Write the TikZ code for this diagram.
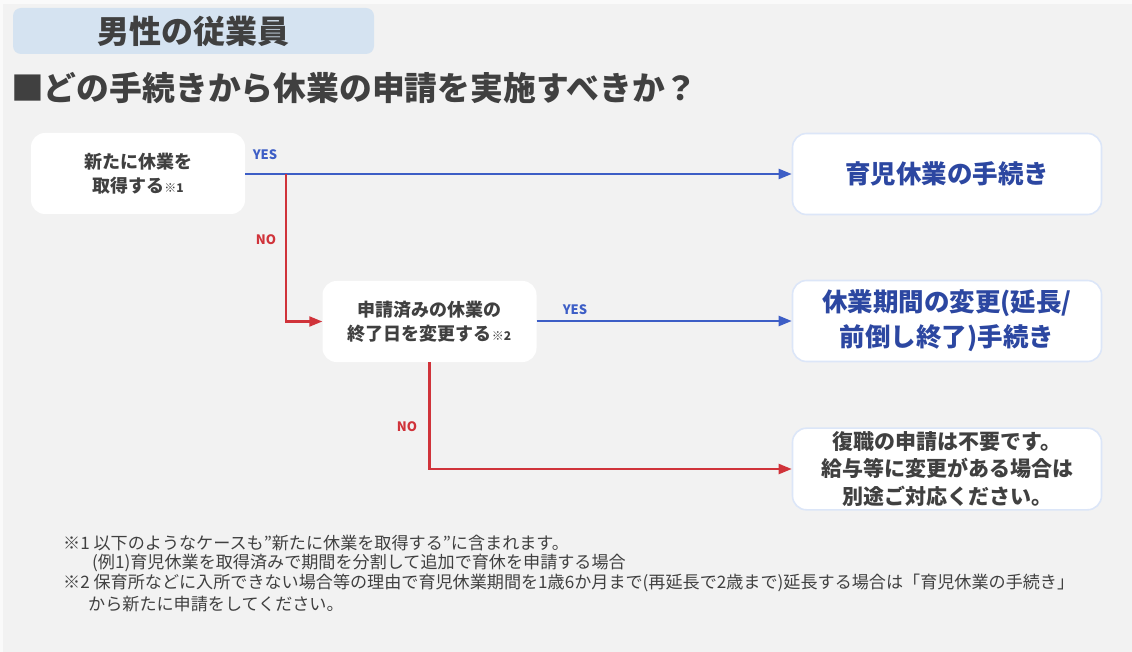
\documentclass[tikz,border=0pt]{standalone}
\usepackage{fontspec}
\setmainfont{Noto Sans CJK JP}
\usetikzlibrary{positioning,arrows.meta}
\definecolor{txtgray}{HTML}{404040}
\definecolor{bggray}{HTML}{F2F2F2}
\definecolor{hdrblue}{HTML}{D5E3F1}
\definecolor{yesblue}{HTML}{3D5EC6}
\definecolor{nored}{HTML}{D0333A}
\definecolor{resblue}{HTML}{2C47A1}
\definecolor{resedge}{HTML}{DCE6F8}

\begin{document}
\begin{tikzpicture}[x=1pt,y=-1pt,
  qbox/.style={fill=white,rounded corners=14pt,minimum width=214pt,minimum height=81pt,align=center,text=txtgray,font=\fontsize{18}{24}\selectfont\bfseries},
  resbox/.style={draw=resedge,line width=1.6pt,fill=white,rounded corners=14pt,minimum width=309pt,minimum height=81pt,align=center},
  yesline/.style={draw=yesblue,line width=2.2pt,-{Triangle[length=13pt,width=10pt]}},
  noline/.style={draw=nored,line width=2.2pt,-{Triangle[length=13pt,width=10pt]}},
  yeslbl/.style={text=yesblue,font=\fontsize{13}{13}\selectfont\bfseries},
  nolbl/.style={text=nored,font=\fontsize{13}{13}\selectfont\bfseries},
  note/.style={anchor=west,inner sep=0pt,text=txtgray,font=\fontsize{17.1}{20}\selectfont}]
% page
\useasboundingbox (0,0) rectangle (1132,652);
\fill[white!60!bggray] (0,0) rectangle (1132,652);
\fill[bggray] (3,4) rectangle (1132,652);
% header + question
\node[fill=hdrblue,rounded corners=8pt,minimum width=361pt,minimum height=46pt,text=txtgray,font=\fontsize{32}{32}\selectfont\bfseries] (hdr) at (193.5,31) {男性の従業員};
\node[anchor=west,inner sep=0pt,text=txtgray,font=\fontsize{32.8}{32.8}\selectfont\bfseries] (ttl) at (11,88) {■どの手続きから休業の申請を実施すべきか？};
% questions
\node[qbox] (q1) at (138,173.5) {新たに休業を\\取得する{\fontsize{12}{12}\selectfont ※1}};
\node[qbox] (q2) at (429.5,321.5) {申請済みの休業の\\終了日を変更する{\fontsize{12}{12}\selectfont ※2}};
% answers
\node[resbox,text=resblue,font=\fontsize{25.5}{35}\selectfont\bfseries] (r1) at (947,174) {育児休業の手続き};
\node[resbox,text=resblue,font=\fontsize{25.5}{35}\selectfont\bfseries] (r2) at (947,321) {休業期間の変更(延長/\\前倒し終了)手続き};
\node[resbox,text=txtgray,font=\fontsize{21}{27.5}\selectfont\bfseries] (r3) at (947,469) {復職の申請は不要です。\\給与等に変更がある場合は\\別途ご対応ください。};
% connectors
\coordinate (br1) at (286,174);
\draw[yesline] (q1.east |- r1.west) -- (r1.west);
\draw[noline] (br1) |- (q2.west);
\draw[yesline] (q2.east |- r2.west) -- (r2.west);
\draw[noline] (q2.south) |- (r3.west);
\node[yeslbl] (y1) at (265,155) {YES};
\node[nolbl] (n1) at (266,240) {NO};
\node[yeslbl] (y2) at (575,310) {YES};
\node[nolbl] (n2) at (407,427) {NO};
% notes
\node[note] (note1) at (63,543) {※1 以下のようなケースも”新たに休業を取得する”に含まれます。};
\node[note] (note2) at (92,563) {(例1)育児休業を取得済みで期間を分割して追加で育休を申請する場合};
\node[note] (note3) at (63,583) {※2 保育所などに入所できない場合等の理由で育児休業期間を1歳6か月まで(再延長で2歳まで)延長する場合は「育児休業の手続き」};
\node[note] (note4) at (88,604) {から新たに申請をしてください。};
\end{tikzpicture}
\end{document}
